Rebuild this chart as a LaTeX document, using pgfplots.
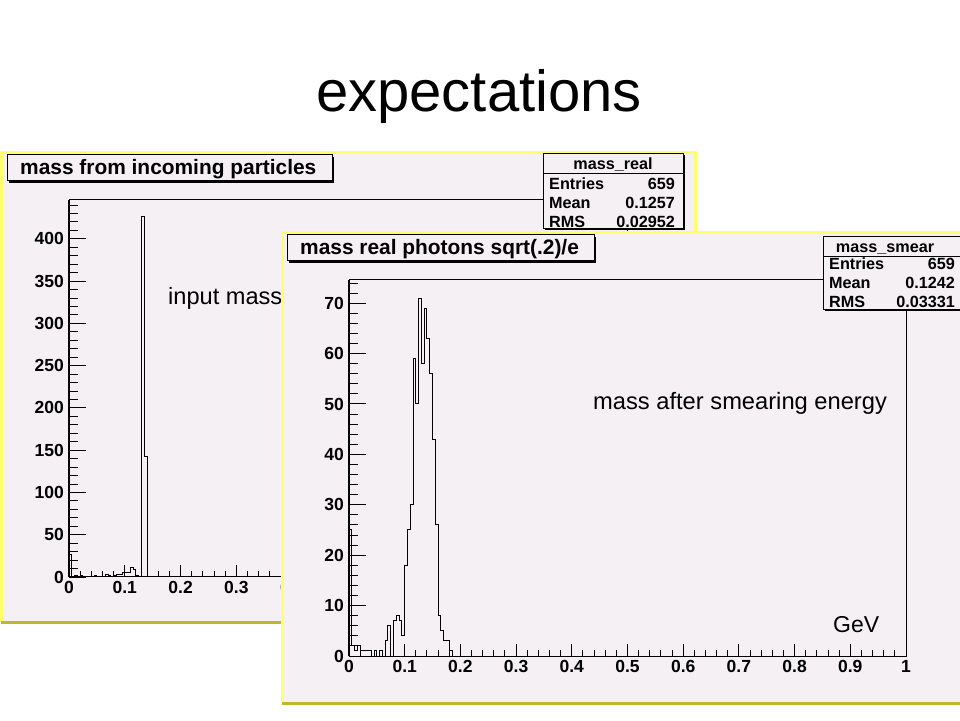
\documentclass[border=0pt]{standalone}
\usepackage{pgfplots}
\pgfplotsset{compat=1.18}
\usepackage{fontspec}
\setmainfont{Liberation Sans}

\definecolor{canvasbg}{RGB}{244,240,244}
\definecolor{ylight}{RGB}{255,255,110}
\definecolor{ydark}{RGB}{190,184,44}

\pgfplotsset{rootaxis/.style={
  scale only axis, anchor=south west,
  xmin=0, xmax=1, ymin=0,
  xtick={0,0.1,0.2,0.3,0.4,0.5,0.6,0.7,0.8,0.9,1},
  minor x tick num=4, minor y tick num=4,
  tick pos=left, tick align=inside,
  major tick length=12pt, minor tick length=6pt,
  axis line style={line width=1pt, black},
  every tick/.append style={black, line width=1pt},
  ytick style={draw=none},
  ticklabel style={font=\fontsize{17.5}{19}\selectfont\bfseries},
  xticklabel style={anchor=north, inner sep=0pt, yshift=-4pt},
  yticklabel style={anchor=east, inner sep=0pt, xshift=-5pt},
  /pgf/number format/assume math mode=true,
  scaled ticks=false,
  clip=false,
},
rootyticks/.style={
  scale only axis, anchor=south west,
  xmin=0, xmax=1, ymin=0,
  hide x axis, minor y tick num=4,
  ytick pos=left, tick align=inside,
  major tick length=17pt, minor tick length=8.5pt,
  every tick/.append style={black, line width=1pt},
  axis line style={line width=1pt, black},
  yticklabels={},
}}

\begin{document}
\begin{tikzpicture}[x=1pt,y=1pt]
\path[use as bounding box, fill=white] (0,0) rectangle (960,720);

% slide title
\node[anchor=base, inner sep=0pt, font=\fontsize{58}{64}\selectfont] at (479,608) {expectations};

% ---------- canvas 1 ----------
\fill[canvasbg] (1,98) rectangle (695,567);
\draw[ylight, line width=3pt] (1,98) -- (1,567) -- (695,567) -- (695,98);
\draw[ydark, line width=3pt] (1,98) -- (695,98);

\begin{axis}[rootaxis, at={(69pt,143pt)}, width=558pt, height=377pt,
  ymax=446, ytick={0,50,100,150,200,250,300,350,400,450}]
\addplot[const plot mark left, black, line width=1pt, mark=none] coordinates {
(0,0) (0,27) (0.005,0) (0.01,2) (0.015,0) (0.02,2) (0.025,0) (0.03,1) (0.035,1)
(0.04,0) (0.045,2) (0.05,0) (0.055,1) (0.06,1) (0.065,3) (0.07,2) (0.075,1)
(0.08,2) (0.085,3) (0.09,3) (0.095,5) (0.1,5) (0.105,5) (0.11,11) (0.115,9)
(0.12,2) (0.125,1) (0.13,427) (0.135,143) (0.14,0) (1,0)};
\draw[line width=2pt] (rel axis cs:0,0) -- (rel axis cs:0,1);
\end{axis}
\begin{axis}[rootyticks, at={(69pt,143pt)}, width=558pt, height=377pt,
  ymax=446, ytick={0,50,100,150,200,250,300,350,400,450}]
\end{axis}

% title box 1
\fill[black] (9,537) rectangle (334,563);
\draw[black, fill=canvasbg, line width=1pt] (7,539) rectangle (332,565);
\node[anchor=base west, inner sep=0pt, font=\fontsize{20.9}{23}\selectfont\bfseries] at (20,545) {mass from incoming particles};

% stats box 1
\fill[black] (544.5,489.5) rectangle (684.5,564.5);
\draw[black, fill=canvasbg, line width=1pt] (543,491) rectangle (683,566);
\draw[black, line width=1pt] (543,546) -- (683,546);
\begin{scope}[every node/.style={inner sep=0pt, font=\fontsize{16.2}{18}\selectfont\bfseries}]
\node[anchor=base] at (613,550.7) {mass\_real};
\node[anchor=base west] at (549,530.7) {Entries};
\node[anchor=base east] at (675,530.7) {659};
\node[anchor=base west] at (549,511) {Mean};
\node[anchor=base east] at (675,511) {0.1257};
\node[anchor=base west] at (549,492.7) {RMS};
\node[anchor=base east] at (675,492.7) {0.02952};
\end{scope}

\node[anchor=base west, inner sep=0pt, font=\fontsize{23.6}{26}\selectfont] at (168,415) {input mass};

% ---------- canvas 2 ----------
\fill[canvasbg] (282,17) rectangle (965,487);
\draw[ylight, line width=3pt] (282,17) -- (282,487) -- (965,487);
\draw[ydark, line width=3pt] (282,17) -- (965,17);

\begin{axis}[rootaxis, at={(349pt,64pt)}, width=557pt, height=376pt,
  ymax=74.6, ytick={0,10,20,30,40,50,60,70,80}]
\addplot[const plot mark left, black, line width=1pt, mark=none] coordinates {
(0,0) (0,25) (0.005,2) (0.01,1) (0.015,2) (0.02,1) (0.025,1) (0.03,1) (0.035,1)
(0.04,0) (0.045,1) (0.05,0) (0.055,1) (0.06,0) (0.065,3) (0.07,6) (0.075,0)
(0.08,7) (0.085,8) (0.09,7) (0.095,4) (0.1,18) (0.105,25) (0.11,30) (0.115,59)
(0.12,50) (0.125,71) (0.13,58) (0.135,69) (0.14,63) (0.145,56) (0.15,43)
(0.155,26) (0.16,8) (0.165,5) (0.17,3) (0.175,3) (0.18,1) (0.185,0) (1,0)};
\draw[line width=2pt] (rel axis cs:0,0) -- (rel axis cs:0,1);
\end{axis}
\begin{axis}[rootyticks, at={(349pt,64pt)}, width=557pt, height=376pt,
  ymax=74.6, ytick={0,10,20,30,40,50,60,70,80}]
\end{axis}

% title box 2
\fill[black] (289,457) rectangle (596,483);
\draw[black, fill=canvasbg, line width=1pt] (287,459) rectangle (594,485);
\node[anchor=base west, inner sep=0pt, font=\fontsize{20.9}{23}\selectfont\bfseries] at (300,465.7) {mass real photons sqrt(.2)/e};

% stats box 2
\fill[black] (824.5,408.5) rectangle (964.5,481.5);
\draw[black, fill=canvasbg, line width=1pt] (823,410) rectangle (963,483);
\draw[black, line width=1pt] (823,463) -- (963,463);
\begin{scope}[every node/.style={inner sep=0pt, font=\fontsize{16.2}{18}\selectfont\bfseries}]
\node[anchor=base] at (885,467.5) {mass\_smear};
\node[anchor=base west] at (829,450.7) {Entries};
\node[anchor=base east] at (955,450.7) {659};
\node[anchor=base west] at (829,431.7) {Mean};
\node[anchor=base east] at (955,431.7) {0.1242};
\node[anchor=base west] at (829,412.3) {RMS};
\node[anchor=base east] at (955,412.3) {0.03331};
\end{scope}

\node[anchor=base west, inner sep=0pt, font=\fontsize{23.7}{26}\selectfont] at (593,310) {mass after smearing energy};
\node[anchor=base west, inner sep=0pt, font=\fontsize{23}{26}\selectfont] at (833,88) {GeV};
\end{tikzpicture}
\end{document}
